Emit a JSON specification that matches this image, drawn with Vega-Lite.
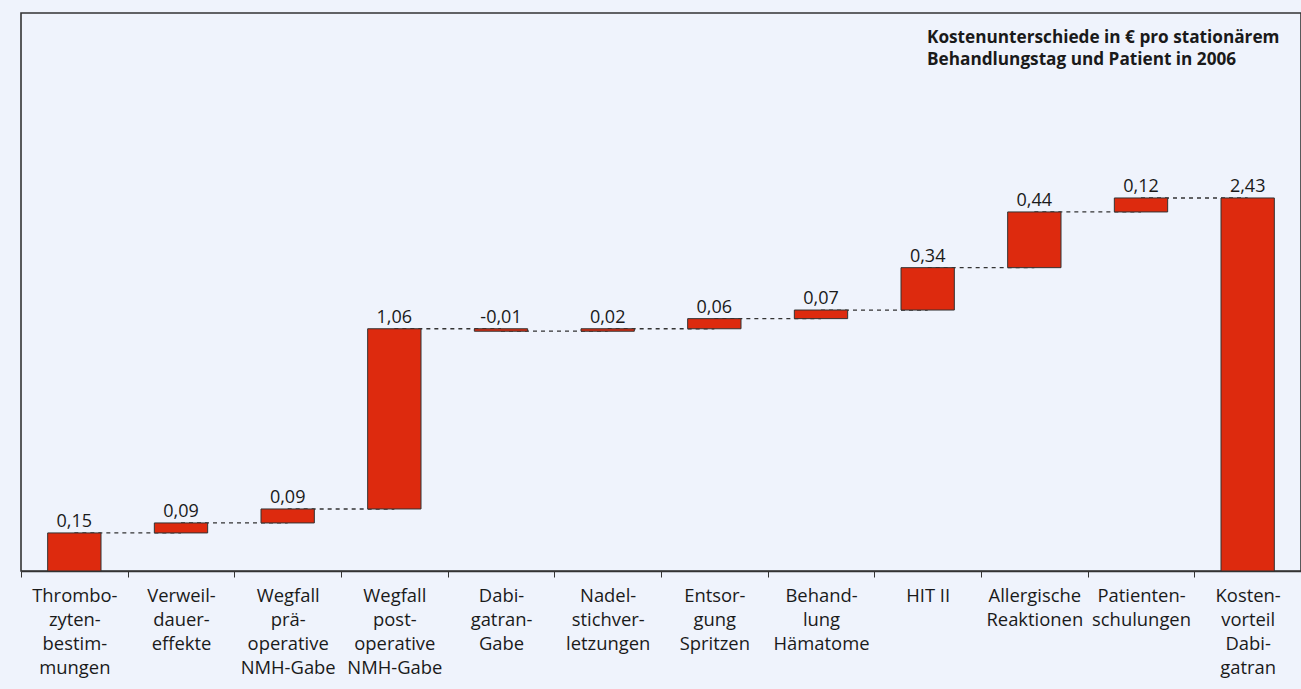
{
  "$schema": "https://vega.github.io/schema/vega-lite/v6.json",
  "width": 1280,
  "height": 558,
  "autosize": {"type": "none"},
  "padding": {"left": 21, "top": 13, "right": 0, "bottom": 118},
  "background": "#eff3fc",
  "config": {
    "font": "Open Sans",
    "view": {"stroke": "#333333", "strokeWidth": 1.6, "fill": "#eff3fc"}
  },
  "title": {
    "text": ["Kostenunterschiede in € pro stationärem", "Behandlungstag und Patient in 2006"],
    "orient": "top",
    "anchor": "start",
    "frame": "group",
    "baseline": "top",
    "offset": -55,
    "dx": 906,
    "fontSize": 17.2,
    "fontWeight": "bold",
    "color": "#1a1a1a",
    "lineHeight": 22
  },
  "datasets": {
    "bars": [
      {"cat": "Thrombo-|zyten-|bestim-|mungen", "start": 0, "end": 0.248, "label": "0,15"},
      {"cat": "Verweil-|dauer-|effekte", "start": 0.248, "end": 0.313, "label": "0,09"},
      {"cat": "Wegfall|prä-|operative|NMH-Gabe", "start": 0.313, "end": 0.404, "label": "0,09"},
      {"cat": "Wegfall|post-|operative|NMH-Gabe", "start": 0.404, "end": 1.578, "label": "1,06"},
      {"cat": "Dabi-|gatran-|Gabe", "start": 1.578, "end": 1.562, "label": "-0,01"},
      {"cat": "Nadel-|stichver-|letzungen", "start": 1.562, "end": 1.578, "label": "0,02"},
      {"cat": "Entsor-|gung|Spritzen", "start": 1.578, "end": 1.644, "label": "0,06"},
      {"cat": "Behand-|lung|Hämatome", "start": 1.644, "end": 1.700, "label": "0,07"},
      {"cat": "HIT II", "start": 1.700, "end": 1.976, "label": "0,34"},
      {"cat": "Allergische|Reaktionen", "start": 1.976, "end": 2.339, "label": "0,44"},
      {"cat": "Patienten-|schulungen", "start": 2.339, "end": 2.430, "label": "0,12"},
      {"cat": "Kosten-|vorteil|Dabi-|gatran", "start": 0, "end": 2.430, "label": "2,43"}
    ],
    "links": [
      {"link": 1, "cat": "Thrombo-|zyten-|bestim-|mungen", "level": 0.248},
      {"link": 1, "cat": "Verweil-|dauer-|effekte", "level": 0.248},
      {"link": 2, "cat": "Verweil-|dauer-|effekte", "level": 0.313},
      {"link": 2, "cat": "Wegfall|prä-|operative|NMH-Gabe", "level": 0.313},
      {"link": 3, "cat": "Wegfall|prä-|operative|NMH-Gabe", "level": 0.404},
      {"link": 3, "cat": "Wegfall|post-|operative|NMH-Gabe", "level": 0.404},
      {"link": 4, "cat": "Wegfall|post-|operative|NMH-Gabe", "level": 1.578},
      {"link": 4, "cat": "Dabi-|gatran-|Gabe", "level": 1.578},
      {"link": 5, "cat": "Dabi-|gatran-|Gabe", "level": 1.562},
      {"link": 5, "cat": "Nadel-|stichver-|letzungen", "level": 1.562},
      {"link": 6, "cat": "Nadel-|stichver-|letzungen", "level": 1.578},
      {"link": 6, "cat": "Entsor-|gung|Spritzen", "level": 1.578},
      {"link": 7, "cat": "Entsor-|gung|Spritzen", "level": 1.644},
      {"link": 7, "cat": "Behand-|lung|Hämatome", "level": 1.644},
      {"link": 8, "cat": "Behand-|lung|Hämatome", "level": 1.700},
      {"link": 8, "cat": "HIT II", "level": 1.700},
      {"link": 9, "cat": "HIT II", "level": 1.976},
      {"link": 9, "cat": "Allergische|Reaktionen", "level": 1.976},
      {"link": 10, "cat": "Allergische|Reaktionen", "level": 2.339},
      {"link": 10, "cat": "Patienten-|schulungen", "level": 2.339},
      {"link": 11, "cat": "Patienten-|schulungen", "level": 2.430},
      {"link": 11, "cat": "Kosten-|vorteil|Dabi-|gatran", "level": 2.430}
    ]
  },
  "encoding": {
    "x": {
      "field": "cat", "type": "nominal", "sort": null,
      "scale": {"paddingInner": 0, "paddingOuter": 0},
      "axis": {
        "title": null,
        "labelAngle": 0,
        "labelExpr": "split(datum.label, '|')",
        "labelFontSize": 18.4,
        "labelColor": "#1a1a1a",
        "labelLineHeight": 24.2,
        "labelBaseline": "top",
        "labelPadding": 9,
        "labelLimit": 200,
        "tickBand": "extent",
        "tickSize": 6,
        "tickColor": "#333333",
        "domainColor": "#333333",
        "domainWidth": 1.5
      }
    }
  },
  "layer": [
    {
      "data": {"name": "links"},
      "mark": {"type": "line", "stroke": "#333333", "strokeWidth": 1.3, "strokeDash": [4, 4]},
      "encoding": {
        "y": {"field": "level", "type": "quantitative", "scale": {"domain": [0, 3.635], "nice": false, "zero": false}, "axis": null},
        "detail": {"field": "link", "type": "nominal"}
      }
    },
    {
      "data": {"name": "bars"},
      "mark": {"type": "bar", "fill": "#dd2a0e", "stroke": "#333333", "strokeWidth": 1, "width": {"band": 0.5}},
      "encoding": {
        "y": {"field": "start", "type": "quantitative"},
        "y2": {"field": "end"}
      }
    },
    {
      "data": {"name": "bars"},
      "transform": [{"filter": "datum.end >= datum.start"}],
      "mark": {"type": "text", "fontSize": 18, "color": "#1a1a1a", "baseline": "alphabetic", "dy": -6},
      "encoding": {
        "y": {"field": "end", "type": "quantitative"},
        "text": {"field": "label"}
      }
    },
    {
      "data": {"name": "bars"},
      "transform": [{"filter": "datum.end < datum.start"}],
      "mark": {"type": "text", "fontSize": 18, "color": "#1a1a1a", "baseline": "alphabetic", "dy": -6},
      "encoding": {
        "y": {"field": "start", "type": "quantitative"},
        "text": {"field": "label"}
      }
    }
  ]
}
